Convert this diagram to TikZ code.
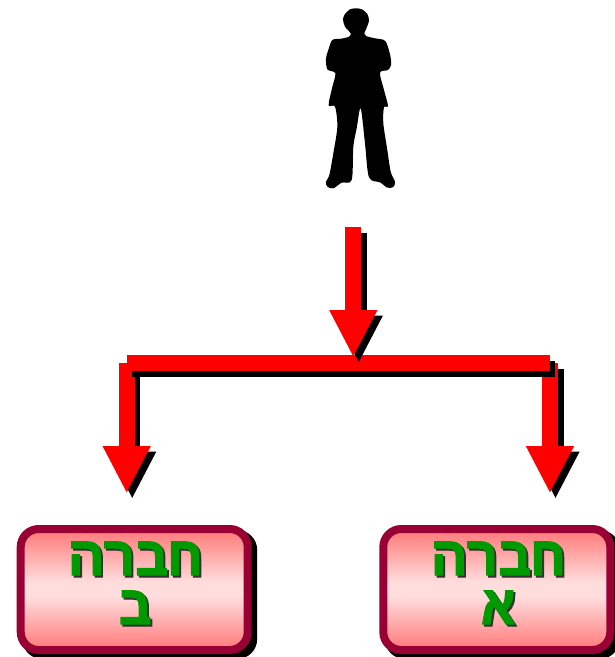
\documentclass[tikz,border=0pt]{standalone}
\usepackage{fontspec}
\usetikzlibrary{arrows.meta}
\TeXXeTstate=1
\newfontfamily\hebfont[Script=Hebrew,FakeBold=2]{Liberation Mono Bold}
\definecolor{boxedge}{HTML}{990033}
\definecolor{boxend}{HTML}{FF8080}
\definecolor{boxmid}{HTML}{FFDDDD}
\definecolor{labelgreen}{HTML}{009900}
\pgfdeclareverticalshading{boxgrad}{100bp}{color(0bp)=(boxend); color(27bp)=(boxend); color(47bp)=(boxmid); color(53bp)=(boxmid); color(73bp)=(boxend); color(100bp)=(boxend)}
\tikzset{
  flowarrow/.style={line width=16pt,-{Triangle[length=47.5pt,width=44.5pt]}},
  flowbar/.style={line width=16pt},
  shadowed/.style={transform canvas={shift={(5.5pt,-5.5pt)}}},
  companybox/.style={rectangle,rounded corners=18pt,minimum width=227pt,minimum height=121pt,
    line width=8pt,draw=boxedge,shading=boxgrad,inner sep=0pt},
  boxshadow/.style={rectangle,rounded corners=20pt,minimum width=235pt,minimum height=129pt,fill=black,inner sep=0pt},
  hebtext/.style={font=\hebfont\fontsize{55}{55}\selectfont,inner sep=0pt,anchor=base},
}
\newcommand{\hebl}[1]{\beginR #1\endR}
\begin{document}
\begin{tikzpicture}[x=1pt,y=-1pt]
\useasboundingbox (0,0) rectangle (615,657);
% person
\begin{scope}[shift={(300,0)},x=0.3333pt,y=-0.3333pt]
\fill[black] plot[smooth cycle,tension=0.5] coordinates {
(168,25)(186,28)(202,42)(207,62)(198,88)(193,100)(198,108)(225,115)(252,120)(262,135)(272,172)(273,195)(264,210)(240,218)
(252,270)(264,318)(252,322)(250,370)(262,450)(272,515)(285,545)(280,561)(262,563)(240,547)(207,532)(195,430)(182,325)
(170,385)(160,440)(155,540)(125,548)(100,565)(82,560)(78,545)(88,525)(100,460)(112,380)(105,320)(86,316)
(96,265)(106,220)(82,208)(78,175)(85,150)(97,120)(125,116)(147,110)(152,100)(135,80)(129,58)(135,42)(150,28)};
\end{scope}
% named ends
\coordinate (start) at (353.3,227);
\coordinate (tip) at (353.3,357.5);
\coordinate (barL) at (126.5,363);
\coordinate (barR) at (549.7,363);
\coordinate (leftstart) at (126.7,363);
\coordinate (lefttip) at (126.7,493.5);
\coordinate (rightstart) at (550,363);
\coordinate (righttip) at (550,493.5);
% branch arrows below bar
\begin{scope}[shadowed]
\draw[flowarrow,black] (leftstart) -- (lefttip);
\draw[flowarrow,black] (rightstart) -- (righttip);
\end{scope}
\draw[flowarrow,red] (leftstart) -- (lefttip);
\draw[flowarrow,red] (rightstart) -- (righttip);
% bar
\draw[flowbar,black,shadowed] (barL) -- (barR);
\draw[flowbar,red] (barL) -- (barR);
% top arrow
\draw[flowarrow,black,shadowed] (start) -- (tip);
\draw[flowarrow,red] (start) -- (tip);
% boxes
\node[boxshadow] (shadowB) at (139.7,594.5) {};
\node[companybox] (boxB) at (134.2,589.5) {};
\node[boxshadow] (shadowA) at (502.3,594.5) {};
\node[companybox] (boxA) at (496.8,589.5) {};
% labels
\foreach \cx/\second/\nm in {135.5/ב/B,498.5/א/A}{
  \node[hebtext,black!80] at (\cx+2,575+2) {\hebl{חברה}};
  \node[hebtext,black!80] at (\cx+2,624+2) {\hebl{\second}};
  \node[hebtext,labelgreen] (first\nm) at (\cx,575) {\hebl{חברה}};
  \node[hebtext,labelgreen] (second\nm) at (\cx,624) {\hebl{\second}};
}
\end{tikzpicture}
\end{document}
